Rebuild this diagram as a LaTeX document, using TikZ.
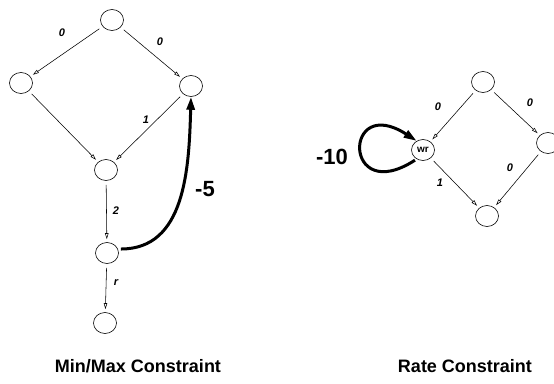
\documentclass[tikz,border=0pt]{standalone}
\usepackage{fontspec}
\setmainfont{Liberation Sans}
\usetikzlibrary{arrows.meta,shapes.geometric}
\begin{document}
\begin{tikzpicture}[x=1pt,y=-1pt,
  vert/.style={draw,ellipse,line width=0.6pt,minimum width=23pt,minimum height=21pt,inner sep=0pt},
  edge/.style={line width=0.55pt,-{Triangle[open,length=6pt,width=3.5pt]},shorten <=4pt,shorten >=3pt},
  heavy/.style={line width=3pt,-{Triangle[length=13pt,width=8pt]}},
  wt/.style={font=\bfseries\itshape\fontsize{11}{11}\selectfont},
  big/.style={font=\bfseries\fontsize{22}{22}\selectfont},
  caption/.style={font=\bfseries\fontsize{18}{18}\selectfont,anchor=base}]
\useasboundingbox (0,0) rectangle (554,383);

% Min/Max constraint graph
\node[vert] (a) at (112,20) {};
\node[vert] (b) at (21,83) {};
\node[vert] (c) at (191,86) {};
\node[vert] (d) at (106,170) {};
\node[vert] (e) at (107,253) {};
\node[vert] (f) at (105,323) {};

\draw[edge] (a) -- (b);
\draw[edge] (a) -- (c);
\draw[edge] (b) -- (d);
\draw[edge] (c) -- (d);
\draw[edge] (d) -- (e);
\draw[edge] (e) -- (f);
\draw[heavy,shorten <=3pt] (e.20) .. controls +(67,0) and +(-2,73) .. (c.south);

\node[wt] (la) at (62,33) {0};
\node[wt] (lb) at (160,42) {0};
\node[wt] (lc) at (146,120) {1};
\node[wt] (ld) at (116,211) {2};
\node[wt] (le) at (116,283) {r};
\node[big] (lf) at (205,189) {-5};

% Rate constraint graph
\node[vert] (g) at (483,82) {};
\node[vert,font=\bfseries\fontsize{10}{10}\selectfont] (w) at (423,150) {wr};
\node[vert] (h) at (548,143) {};
\node[vert] (k) at (487,216) {};

\draw[edge] (g) -- (w);
\draw[edge] (g) -- (h);
\draw[edge] (w) -- (k);
\draw[edge] (h) -- (k);
\draw[heavy,shorten <=2pt] (w.-125) .. controls +(-74,48) and +(-74,-48) .. (w.125);

\node[wt] (lg) at (438,107) {0};
\node[wt] (lh) at (530,103) {0};
\node[wt] (li) at (510,168) {0};
\node[wt] (lj) at (440,183) {1};
\node[big] (lk) at (332,157) {-10};

% captions
\node[caption] (t1) at (138,372) {Min/Max Constraint};
\node[caption] (t2) at (465,372) {Rate Constraint};
\end{tikzpicture}
\end{document}
